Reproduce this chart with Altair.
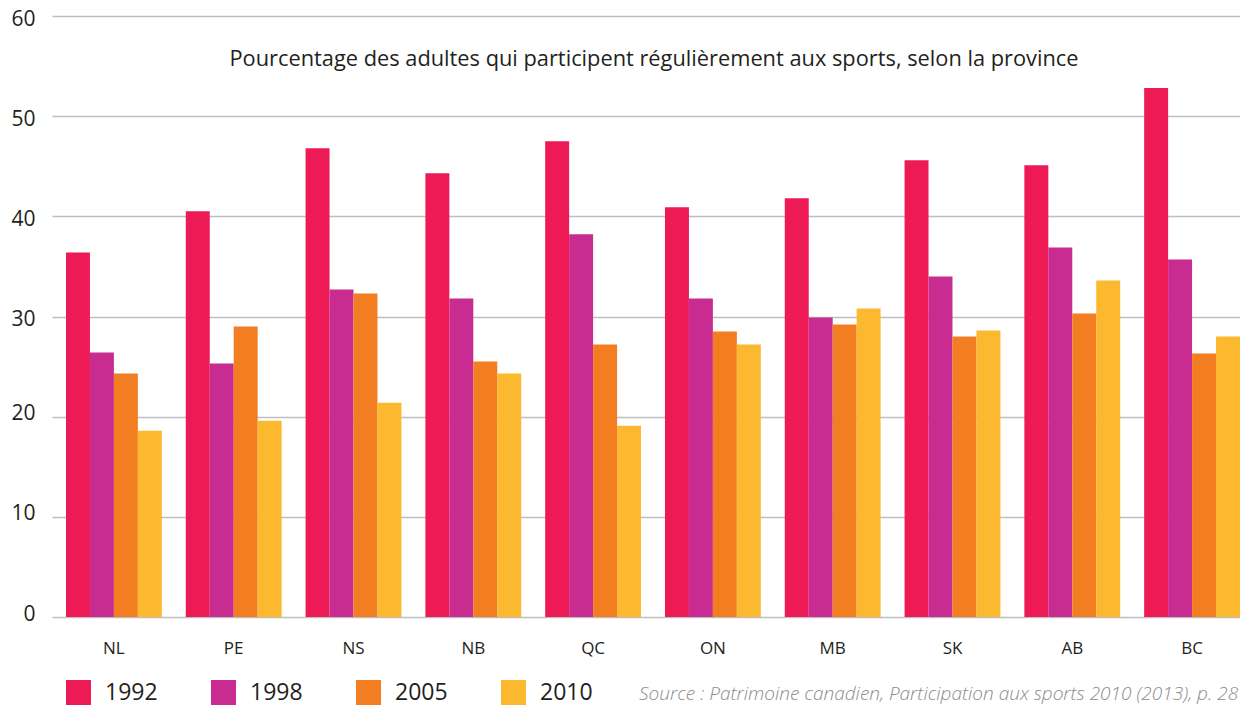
import altair as alt
import pandas as pd

provinces = ["NL", "PE", "NS", "NB", "QC", "ON", "MB", "SK", "AB", "BC"]
years = ["1992", "1998", "2005", "2010"]
v1992 = [36.4, 40.5, 46.8, 44.3, 47.5, 40.9, 41.8, 45.6, 45.1, 52.8]
v1998 = [26.4, 25.3, 32.7, 31.8, 38.2, 31.8, 29.9, 34.0, 36.9, 35.7]
v2005 = [24.3, 29.0, 32.3, 25.5, 27.2, 28.5, 29.2, 28.0, 30.3, 26.3]
v2010 = [18.6, 19.6, 21.4, 24.3, 19.1, 27.2, 30.8, 28.6, 33.6, 28.0]
colors = ["#ED1A55", "#C92C91", "#F37E22", "#FCB92F"]
y_ticks = [0, 10, 20, 30, 40, 50, 60]
title_text = "Pourcentage des adultes qui participent régulièrement aux sports, selon la province"
source_text = "Source : Patrimoine canadien, Participation aux sports 2010 (2013), p. 28"

rows = []
for yr, vals in zip(years, [v1992, v1998, v2005, v2010]):
    for p, v in zip(provinces, vals):
        rows.append({"province": p, "year": yr, "value": v})
df = pd.DataFrame(rows)

FONT = "Open Sans"

bars = alt.Chart(df).mark_bar().encode(
    x=alt.X("province:N", sort=provinces,
            scale=alt.Scale(paddingInner=0.2, paddingOuter=0.0584, align=1),
            axis=alt.Axis(title=None, labelAngle=0, labelFontSize=17, labelPadding=23,
                          ticks=False, domain=False, grid=False, labelColor="#231f20",
                          labelFont=FONT)),
    xOffset=alt.XOffset("year:N", sort=years),
    y=alt.Y("value:Q", scale=alt.Scale(domain=[0, 60], nice=False),
            axis=alt.Axis(values=y_ticks, title=None, domain=False, ticks=False,
                          labelPadding=17, labelFontSize=21, labelColor="#231f20",
                          labelOffset=3,
                          labelBaseline={"condition": {"test": "datum.value <= 20",
                                                       "value": "alphabetic"},
                                         "value": "middle"},
                          labelFont=FONT, gridColor="#bcbec0", gridWidth=1.5)),
    color=alt.Color("year:N", sort=years,
                    scale=alt.Scale(domain=years, range=colors),
                    legend=alt.Legend(orient="none", legendX=14, legendY=664,
                                      direction="horizontal", symbolType="square",
                                      symbolSize=625, symbolStrokeWidth=0,
                                      labelFontSize=23, labelFont=FONT,
                                      labelColor="#231f20", columnPadding=53,
                                      labelOffset=14, title=None, padding=0)),
)

title = alt.Chart(pd.DataFrame({"t": [title_text]})).mark_text(
    font=FONT, fontSize=21.8, color="#231f20", align="center", baseline="middle"
).encode(text="t:N", x=alt.value(602), y=alt.value(43))

source = alt.Chart(pd.DataFrame({"t": [source_text]})).mark_text(
    font=FONT, fontSize=19, fontStyle="italic", fontWeight=300, color="#8a8c8e",
    align="left", baseline="middle"
).encode(text="t:N", x=alt.value(587), y=alt.value(678))

chart = alt.layer(bars, title, source).properties(
    width=1188, height=601,
    autosize=alt.AutoSizeParams(type="none"),
    padding={"left": 44, "top": 8, "right": 0, "bottom": 89},
).configure_view(stroke=None)

chart.save("out.html", embed_options={"renderer": "svg", "actions": False})
